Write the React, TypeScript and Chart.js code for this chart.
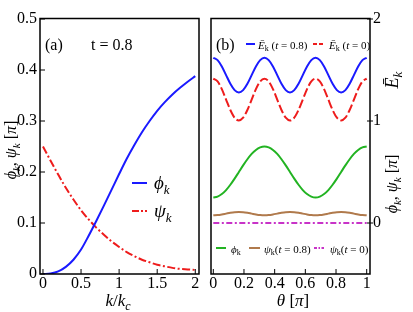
import React, { useEffect, useRef } from 'react';
import { Chart, registerables } from 'chart.js';
Chart.register(...registerables);

const FONT = '"Liberation Serif", "Times New Roman", serif';

// Panel (a)
const kValues = [0, 0.1, 0.2, 0.3, 0.4, 0.5, 0.6, 0.7, 0.8, 0.9, 1.0, 1.1, 1.2, 1.3, 1.4, 1.5, 1.6, 1.7, 1.8, 1.9, 2.0];
const phiA = [0, 0.001, 0.005, 0.014, 0.028, 0.048, 0.075, 0.104, 0.134, 0.165, 0.196, 0.226, 0.253, 0.278, 0.300, 0.320, 0.337, 0.352, 0.365, 0.377, 0.388];
const psiA = [0.25, 0.222, 0.195, 0.169, 0.146, 0.125, 0.107, 0.091, 0.077, 0.064, 0.053, 0.043, 0.035, 0.028, 0.023, 0.018, 0.015, 0.012, 0.010, 0.009, 0.008];
const xTicksA = [0, 0.5, 1, 1.5, 2];
const yTicksA = [0, 0.1, 0.2, 0.3, 0.4, 0.5];

// Panel (b)
const thetaValues = [0, 0.0278, 0.0556, 0.0833, 0.1111, 0.1389, 0.1667, 0.1944, 0.2222, 0.25, 0.2778, 0.3056,
  0.3333, 0.3611, 0.3889, 0.4167, 0.4444, 0.4722, 0.5, 0.5278, 0.5556, 0.5833, 0.6111, 0.6389,
  0.6667, 0.6944, 0.7222, 0.75, 0.7778, 0.8056, 0.8333, 0.8611, 0.8889, 0.9167, 0.9444, 0.9722, 1];
const eT08 = [1.62, 1.597, 1.535, 1.45, 1.365, 1.303, 1.28, 1.303, 1.365, 1.45, 1.535, 1.597,
  1.62, 1.597, 1.535, 1.45, 1.365, 1.303, 1.28, 1.303, 1.365, 1.45, 1.535, 1.597,
  1.62, 1.597, 1.535, 1.45, 1.365, 1.303, 1.28, 1.303, 1.365, 1.45, 1.535, 1.597, 1.62];
const eT0 = [1.415, 1.388, 1.313, 1.21, 1.108, 1.032, 1.005, 1.032, 1.108, 1.21, 1.313, 1.388,
  1.415, 1.388, 1.313, 1.21, 1.108, 1.032, 1.005, 1.032, 1.108, 1.21, 1.313, 1.388,
  1.415, 1.388, 1.313, 1.21, 1.108, 1.032, 1.005, 1.032, 1.108, 1.21, 1.313, 1.388, 1.415];
const phiB = [0.25, 0.259, 0.284, 0.323, 0.375, 0.435, 0.5, 0.565, 0.625, 0.677, 0.716, 0.741,
  0.75, 0.741, 0.716, 0.677, 0.625, 0.565, 0.5, 0.435, 0.375, 0.323, 0.284, 0.259,
  0.25, 0.259, 0.284, 0.323, 0.375, 0.435, 0.5, 0.565, 0.625, 0.677, 0.716, 0.741, 0.75];
const psiT08 = [0.076, 0.078, 0.084, 0.092, 0.1, 0.106, 0.108, 0.106, 0.1, 0.092, 0.084, 0.078,
  0.076, 0.078, 0.084, 0.092, 0.1, 0.106, 0.108, 0.106, 0.1, 0.092, 0.084, 0.078,
  0.076, 0.078, 0.084, 0.092, 0.1, 0.106, 0.108, 0.106, 0.1, 0.092, 0.084, 0.078, 0.076];
const psiT0 = [0, 0, 0, 0, 0, 0, 0, 0, 0, 0, 0, 0, 0, 0, 0, 0, 0, 0, 0, 0, 0, 0, 0, 0, 0, 0, 0, 0, 0, 0, 0, 0, 0, 0, 0, 0, 0];
const xTicksB = [0, 0.2, 0.4, 0.6, 0.8, 1];
const yTicksB = [0, 1, 2];

const BLUE = '#1a1aff';
const RED = '#ee1c1c';
const GREEN = '#22b322';
const BROWN = '#b07a4c';
const MAGENTA = '#c833c8';

type Seg = { t: string; it?: boolean; sub?: boolean };

function drawRich(ctx: CanvasRenderingContext2D, segs: Seg[], x: number, y: number, size: number,
  align: 'left' | 'center' = 'left', rotate = false) {
  ctx.save();
  ctx.fillStyle = '#000';
  ctx.textBaseline = 'alphabetic';
  ctx.textAlign = 'left';
  const fontOf = (s: Seg) => `${s.it ? 'italic ' : ''}${s.sub ? Math.round(size * 0.7) : size}px ${FONT}`;
  let total = 0;
  const widths = segs.map((s) => {
    ctx.font = fontOf(s);
    const w = ctx.measureText(s.t).width;
    total += w;
    return w;
  });
  ctx.translate(x, y);
  if (rotate) ctx.rotate(-Math.PI / 2);
  let cx = align === 'center' ? -total / 2 : 0;
  const base = size * 0.34;
  segs.forEach((s, i) => {
    ctx.font = fontOf(s);
    ctx.fillText(s.t, cx, base + (s.sub ? size * 0.22 : 0));
    cx += widths[i];
  });
  ctx.restore();
}

function legendLine(ctx: CanvasRenderingContext2D, x1: number, x2: number, y: number, color: string, dash: number[], lw = 2) {
  ctx.save();
  ctx.strokeStyle = color;
  ctx.lineWidth = lw;
  ctx.setLineDash(dash);
  ctx.beginPath();
  ctx.moveTo(x1, y);
  ctx.lineTo(x2, y);
  ctx.stroke();
  ctx.restore();
}

const panelAPlugin = {
  id: 'panelA',
  afterDraw(chart: any) {
    const { ctx, chartArea: a, scales } = chart;
    ctx.save();
    ctx.strokeStyle = '#000';
    ctx.lineWidth = 1;
    ctx.beginPath();
    xTicksA.forEach((v) => {
      const px = scales.x.getPixelForValue(v);
      ctx.moveTo(px, a.bottom);
      ctx.lineTo(px, a.bottom - 5);
    });
    yTicksA.forEach((v) => {
      const py = scales.y.getPixelForValue(v);
      ctx.moveTo(a.left, py);
      ctx.lineTo(a.left + 5, py);
    });
    ctx.stroke();
    ctx.lineWidth = 1.5;
    ctx.strokeRect(a.left, a.top - 0.5, a.right - a.left, a.bottom - a.top + 0.5);
    ctx.restore();

    drawRich(ctx, [{ t: '(a)' }], 45, 45, 16);
    drawRich(ctx, [{ t: 't = 0.8' }], 91, 45, 16);
    drawRich(ctx, [
      { t: 'ϕ', it: true }, { t: 'k', it: true, sub: true }, { t: ', ' },
      { t: 'ψ', it: true }, { t: 'k', it: true, sub: true }, { t: ' [' }, { t: 'π', it: true }, { t: ']' },
    ], 11, 150, 16, 'center', true);
    drawRich(ctx, [{ t: 'k', it: true }, { t: '/' }, { t: 'k', it: true }, { t: 'c', it: true, sub: true }], 118, 300, 17, 'center');

    legendLine(ctx, 132, 147, 183, BLUE, []);
    drawRich(ctx, [{ t: 'ϕ', it: true }, { t: 'k', it: true, sub: true }], 154, 183, 19);
    legendLine(ctx, 132, 147, 211, RED, [7, 2, 2, 2]);
    drawRich(ctx, [{ t: 'ψ', it: true }, { t: 'k', it: true, sub: true }], 154, 211, 19);
  },
};

const panelBPlugin = {
  id: 'panelB',
  afterDraw(chart: any) {
    const { ctx, chartArea: a, scales } = chart;
    ctx.save();
    ctx.strokeStyle = '#000';
    ctx.lineWidth = 1;
    ctx.beginPath();
    xTicksB.forEach((v) => {
      const px = scales.x.getPixelForValue(v);
      ctx.moveTo(px, a.bottom);
      ctx.lineTo(px, a.bottom - 5);
    });
    yTicksB.forEach((v) => {
      const py = scales.y.getPixelForValue(v);
      ctx.moveTo(a.right - 3, py);
      ctx.lineTo(a.right + 3, py);
    });
    ctx.stroke();
    ctx.lineWidth = 1.5;
    ctx.strokeRect(a.left, a.top - 0.5, a.right - a.left, a.bottom - a.top + 0.5);
    ctx.restore();

    drawRich(ctx, [{ t: '(b)' }], 216, 45, 16);
    legendLine(ctx, 246, 255, 44, BLUE, []);
    drawRich(ctx, [{ t: 'Ē', it: true }, { t: 'k', sub: true }, { t: ' (' }, { t: 't', it: true }, { t: ' = 0.8)' }], 258, 45, 11);
    legendLine(ctx, 313, 323, 44, RED, [4, 2]);
    drawRich(ctx, [{ t: 'Ē', it: true }, { t: 'k', sub: true }, { t: ' (' }, { t: 't', it: true }, { t: ' = 0)' }], 329, 45, 11);

    legendLine(ctx, 216, 226, 248, GREEN, []);
    drawRich(ctx, [{ t: 'ϕ', it: true }, { t: 'k', sub: true }], 231, 249, 11);
    legendLine(ctx, 249, 260, 248, BROWN, []);
    drawRich(ctx, [{ t: 'ψ', it: true }, { t: 'k', sub: true }, { t: '(' }, { t: 't', it: true }, { t: ' = 0.8)' }], 264, 249, 11);
    legendLine(ctx, 314, 324, 248, MAGENTA, [3, 1.5, 1.5, 1.5]);
    drawRich(ctx, [{ t: 'ψ', it: true }, { t: 'k', sub: true }, { t: '(' }, { t: 't', it: true }, { t: ' = 0)' }], 330, 249, 11);

    drawRich(ctx, [{ t: 'Ē', it: true }, { t: 'k', it: true, sub: true }], 392, 80, 18, 'center', true);
    drawRich(ctx, [
      { t: 'ϕ', it: true }, { t: 'k', it: true, sub: true }, { t: ', ' },
      { t: 'ψ', it: true }, { t: 'k', it: true, sub: true }, { t: ' [' }, { t: 'π', it: true }, { t: ']' },
    ], 392, 184, 16, 'center', true);
    drawRich(ctx, [{ t: 'θ', it: true }, { t: ' [' }, { t: 'π', it: true }, { t: ']' }], 293, 300, 17, 'center');
  },
};

const tickFont = { family: FONT, size: 16 };
const noGrid = { display: false, drawTicks: false, tickLength: 0 };

function pts(xs: number[], ys: number[]) {
  return xs.map((x, i) => ({ x, y: ys[i] }));
}

export default function App() {
  const refA = useRef<HTMLCanvasElement>(null);
  const refB = useRef<HTMLCanvasElement>(null);

  useEffect(() => {
    const chartA = new Chart(refA.current!, {
      type: 'line',
      data: {
        datasets: [
          { data: pts(kValues, phiA), borderColor: BLUE, borderWidth: 2, pointRadius: 0, cubicInterpolationMode: 'monotone', fill: false },
          { data: pts(kValues, psiA), borderColor: RED, borderWidth: 2, borderDash: [8, 2.5, 2, 2.5], pointRadius: 0, cubicInterpolationMode: 'monotone', fill: false },
        ],
      },
      options: {
        animation: false,
        responsive: false,
        devicePixelRatio: 1,
        layout: { padding: { left: 0, top: 19, right: 214, bottom: 0 } },
        plugins: { legend: { display: false }, tooltip: { enabled: false } },
        scales: {
          x: {
            type: 'linear', min: -0.039, max: 2.049,
            afterBuildTicks: (axis: any) => { axis.ticks = xTicksA.map((value) => ({ value })); },
            afterFit: (s: any) => { s.height = 38; },
            grid: noGrid, border: { display: false },
            ticks: { font: tickFont, color: '#000', padding: 0, maxRotation: 0, autoSkip: false, callback: (v: any) => String(v) },
          },
          y: {
            type: 'linear', min: 0, max: 0.5,
            afterBuildTicks: (axis: any) => { axis.ticks = yTicksA.map((value) => ({ value })); },
            afterFit: (s: any) => { s.width = 40; },
            grid: noGrid, border: { display: false },
            ticks: { font: tickFont, color: '#000', padding: 3, autoSkip: false, callback: (v: any) => String(v) },
          },
        },
      },
      plugins: [panelAPlugin],
    } as any);

    const chartB = new Chart(refB.current!, {
      type: 'line',
      data: {
        datasets: [
          { data: pts(thetaValues, eT08), borderColor: BLUE, borderWidth: 2, pointRadius: 0, cubicInterpolationMode: 'monotone', fill: false },
          { data: pts(thetaValues, eT0), borderColor: RED, borderWidth: 2, borderDash: [9, 3], pointRadius: 0, cubicInterpolationMode: 'monotone', fill: false },
          { data: pts(thetaValues, phiB), borderColor: GREEN, borderWidth: 2, pointRadius: 0, cubicInterpolationMode: 'monotone', fill: false },
          { data: pts(thetaValues, psiT08), borderColor: BROWN, borderWidth: 2, pointRadius: 0, cubicInterpolationMode: 'monotone', fill: false },
          { data: pts(thetaValues, psiT0), borderColor: MAGENTA, borderWidth: 2, borderDash: [6, 2.5, 2, 2.5], pointRadius: 0, fill: false },
        ],
      },
      options: {
        animation: false,
        responsive: false,
        devicePixelRatio: 1,
        layout: { padding: { left: 211, top: 19, right: 0, bottom: 0 } },
        plugins: { legend: { display: false }, tooltip: { enabled: false } },
        scales: {
          x: {
            type: 'linear', min: -0.015, max: 1.0215,
            afterBuildTicks: (axis: any) => { axis.ticks = xTicksB.map((value) => ({ value })); },
            afterFit: (s: any) => { s.height = 38; },
            grid: noGrid, border: { display: false },
            ticks: { font: tickFont, color: '#000', padding: 0, maxRotation: 0, autoSkip: false, callback: (v: any) => String(v) },
          },
          y: {
            type: 'linear', position: 'right', min: -0.5, max: 2,
            afterBuildTicks: (axis: any) => { axis.ticks = yTicksB.map((value) => ({ value })); },
            afterFit: (s: any) => { s.width = 43; },
            grid: noGrid, border: { display: false },
            ticks: { font: tickFont, color: '#000', padding: 3, autoSkip: false, callback: (v: any) => String(v) },
          },
        },
      },
      plugins: [panelBPlugin],
    } as any);

    return () => {
      chartA.destroy();
      chartB.destroy();
    };
  }, []);

  const cs: React.CSSProperties = { position: 'absolute', left: 0, top: 0, width: 413, height: 312, display: 'block' };
  return (
    <div style={{ position: 'fixed', left: 0, top: 0, width: 413, height: 312, background: '#fff' }}>
      <canvas ref={refA} width={413} height={312} style={cs} />
      <canvas ref={refB} width={413} height={312} style={cs} />
    </div>
  );
}
